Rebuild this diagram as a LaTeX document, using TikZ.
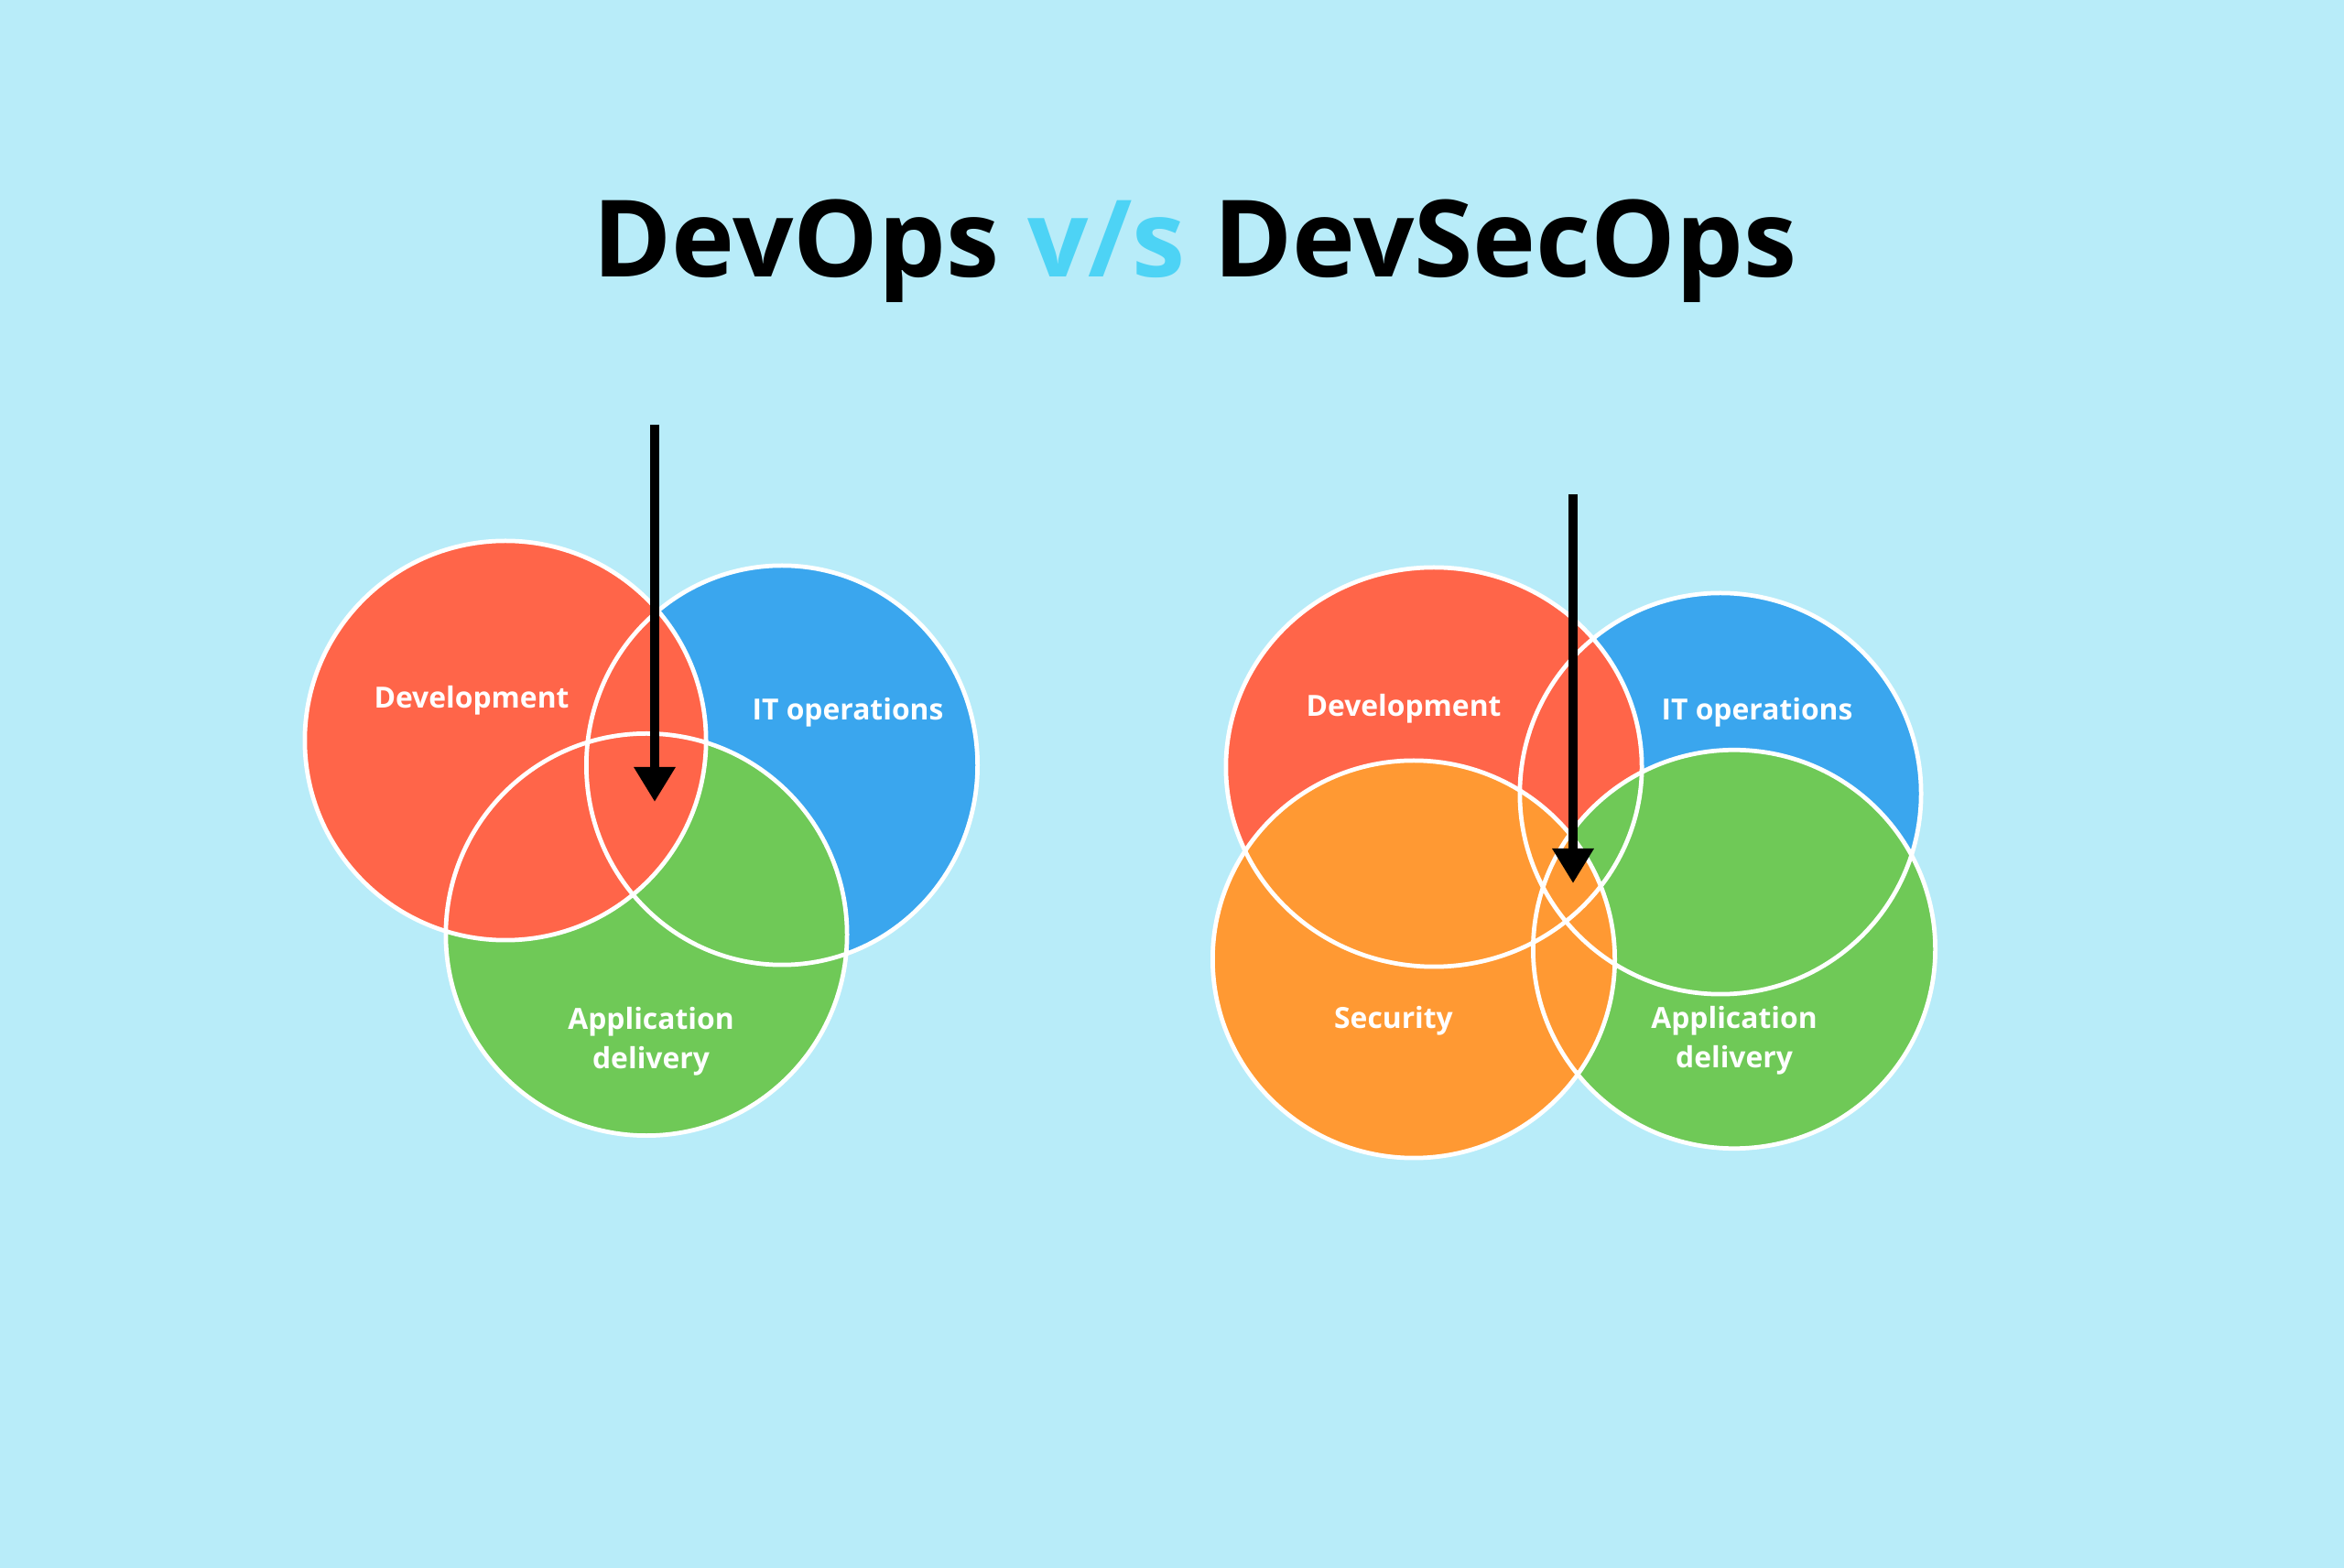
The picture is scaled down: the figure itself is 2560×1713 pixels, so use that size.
\documentclass[tikz,border=0pt]{standalone}
\usepackage{fontspec}
\setmainfont{Open Sans}
\usetikzlibrary{arrows.meta}
\definecolor{sky}{HTML}{B8ECF9}
\definecolor{devred}{HTML}{FF6549}
\definecolor{opsblue}{HTML}{3AA6EE}
\definecolor{appgreen}{HTML}{6FC957}
\definecolor{secorange}{HTML}{FF9933}
\definecolor{vscyan}{HTML}{4DD3F5}
\tikzstyle{ring}=[draw=white,line width=1.35pt]
\tikzstyle{venntext}=[text=white,font=\fontsize{9.05}{12.4}\selectfont\bfseries,align=center,anchor=base,inner sep=0]
\tikzstyle{headline}=[font=\fontsize{33.2}{39}\selectfont\bfseries,anchor=base,inner sep=0]
\tikzstyle{downarrow}=[line width=2.85pt,-{Triangle[length=0.38cm,width=0.43cm]}]

\begin{document}
\begin{tikzpicture}[x=0.01cm,y=-0.01cm]
\fill[sky] (0,0) rectangle (2560,1713);
\useasboundingbox (0,0) rectangle (2560,1713);

\node[headline] (title) at (1305,303) {DevOps {\color{vscyan}v/s} DevSecOps};

\foreach \cx/\cy/\rx/\ry/\col in {854/836/2.135cm/2.18cm/opsblue,706/1021/2.19cm/2.195cm/appgreen,552/809/2.19cm/2.18cm/devred,
	1879/867/2.19cm/2.19cm/opsblue,1566/838/2.27cm/2.18cm/devred,1894/1037/2.195cm/2.176cm/appgreen,1544/1048/2.195cm/2.17cm/secorange}{
	\fill[\col] (\cx,\cy) ellipse [x radius=\rx,y radius=\ry];
	}
\foreach \cx/\cy/\rx/\ry in {854/836/2.135cm/2.18cm,706/1021/2.19cm/2.195cm,552/809/2.19cm/2.18cm,
	1879/867/2.19cm/2.19cm,1566/838/2.27cm/2.18cm,1894/1037/2.195cm/2.176cm,1544/1048/2.195cm/2.17cm}{
	\draw[ring] (\cx,\cy) ellipse [x radius=\rx,y radius=\ry];
	}

\node[venntext] (devA) at (515,774) {Development};
\node[venntext] (opsA) at (926,787) {IT operations};
\node[venntext] (appA) at (711,1168) {Application\\delivery};

\node[venntext] (devB) at (1533,783) {Development};
\node[venntext] (opsB) at (1919,787) {IT operations};
\node[venntext] (secB) at (1522,1124) {Security};
\node[venntext] (appB) at (1894,1167) {Application\\delivery};

\coordinate (topA) at (715,464);
\coordinate (tipA) at (715,876);
\coordinate (topB) at (1718,540);
\coordinate (tipB) at (1718,965);
\draw[downarrow] (topA)--(tipA);
\draw[downarrow] (topB)--(tipB);
\end{tikzpicture}
\end{document}
